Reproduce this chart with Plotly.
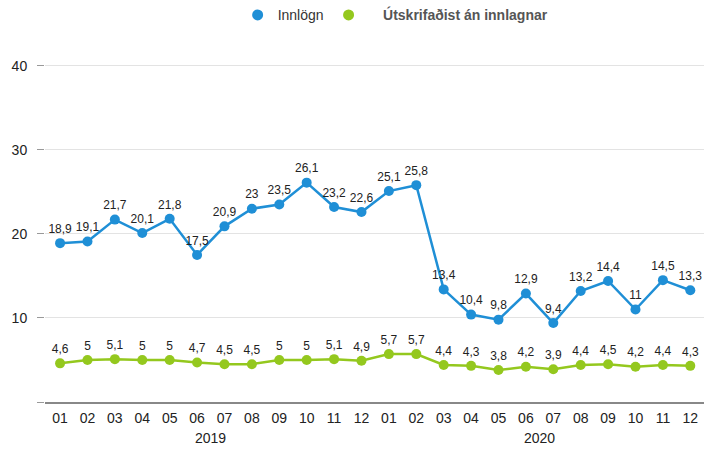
import plotly.graph_objects as go

# Monthly values, Jan 2019 - Dec 2020
months = ["01", "02", "03", "04", "05", "06", "07", "08", "09", "10", "11", "12"] * 2
years = ["2019", "2020"]
innlogn = [18.9, 19.1, 21.7, 20.1, 21.8, 17.5, 20.9, 23.0, 23.5, 26.1, 23.2, 22.6,
           25.1, 25.8, 13.4, 10.4, 9.8, 12.9, 9.4, 13.2, 14.4, 11.0, 14.5, 13.3]
utskrifadist = [4.6, 5.0, 5.1, 5.0, 5.0, 4.7, 4.5, 4.5, 5.0, 5.0, 5.1, 4.9,
                5.7, 5.7, 4.4, 4.3, 3.8, 4.2, 3.9, 4.4, 4.5, 4.2, 4.4, 4.3]
y_ticks = [0, 10, 20, 30, 40]
y_tick_text = ["", "10", "20", "30", "40"]

BLUE = "#1f8fd6"
GREEN = "#94c81e"
FONT = "Liberation Sans, Arial, sans-serif"

x = list(range(len(months)))


def fmt(v):
    s = f"{v:g}"
    return s.replace(".", ",")


fig = go.Figure()

for vals, color in [(innlogn, BLUE), (utskrifadist, GREEN)]:
    fig.add_trace(go.Scatter(
        x=x, y=vals,
        mode="lines+markers+text",
        line=dict(color=color, width=2.5),
        marker=dict(color=color, size=10),
        text=[fmt(v) for v in vals],
        textposition="top center",
        textfont=dict(family=FONT, size=12, color="#222"),
        showlegend=False,
        cliponaxis=False,
        hoverinfo="skip",
    ))

# Legend entries (dots only)
fig.add_trace(go.Scatter(
    x=[None], y=[None], mode="markers",
    marker=dict(color=BLUE, size=11),
    name="<span style='font-size:14px'>Innlögn</span>",
))
fig.add_trace(go.Scatter(
    x=[None], y=[None], mode="markers",
    marker=dict(color=GREEN, size=11),
    name="&nbsp;&nbsp;&nbsp;&nbsp;<b><span style='font-size:14px;color:#555'>Útskrifaðist án innlagnar</span></b>",
))

# Year labels under the month ticks
for i, yr in enumerate(years):
    fig.add_annotation(
        x=5.5 + 12 * i, y=0, xref="x", yref="y",
        text=yr, showarrow=False, yshift=-36,
        font=dict(family=FONT, size=14, color="#222"),
    )

fig.update_layout(
    width=704, height=453,
    margin=dict(l=45, r=0, t=49, b=51),
    paper_bgcolor="white", plot_bgcolor="white",
    font=dict(family=FONT, color="#222"),
    legend=dict(
        orientation="h", xref="container", yref="container",
        x=0.562, xanchor="center", y=1.0, yanchor="top",
        font=dict(family=FONT, size=13, color="#333"),
        itemwidth=30, tracegroupgap=0,
    ),
    xaxis=dict(
        range=[-0.55, 23.5],
        tickmode="array", tickvals=x, ticktext=months,
        tickfont=dict(family=FONT, size=14, color="#222"),
        showgrid=False, zeroline=False,
        showline=True, linecolor="#888", linewidth=1.5,
        ticks="", ticklabelstandoff=2, ticklabeloverflow="allow",
    ),
    yaxis=dict(
        range=[0, 42],
        tickmode="array", tickvals=y_ticks, ticktext=y_tick_text,
        tickfont=dict(family=FONT, size=14, color="#222"),
        showgrid=True, gridcolor="#e3e3e3", gridwidth=1,
        zeroline=False, showline=False,
        ticks="outside", ticklen=7, tickcolor="#999",
        ticklabelstandoff=7,
    ),
)

fig.write_html("out.html")
